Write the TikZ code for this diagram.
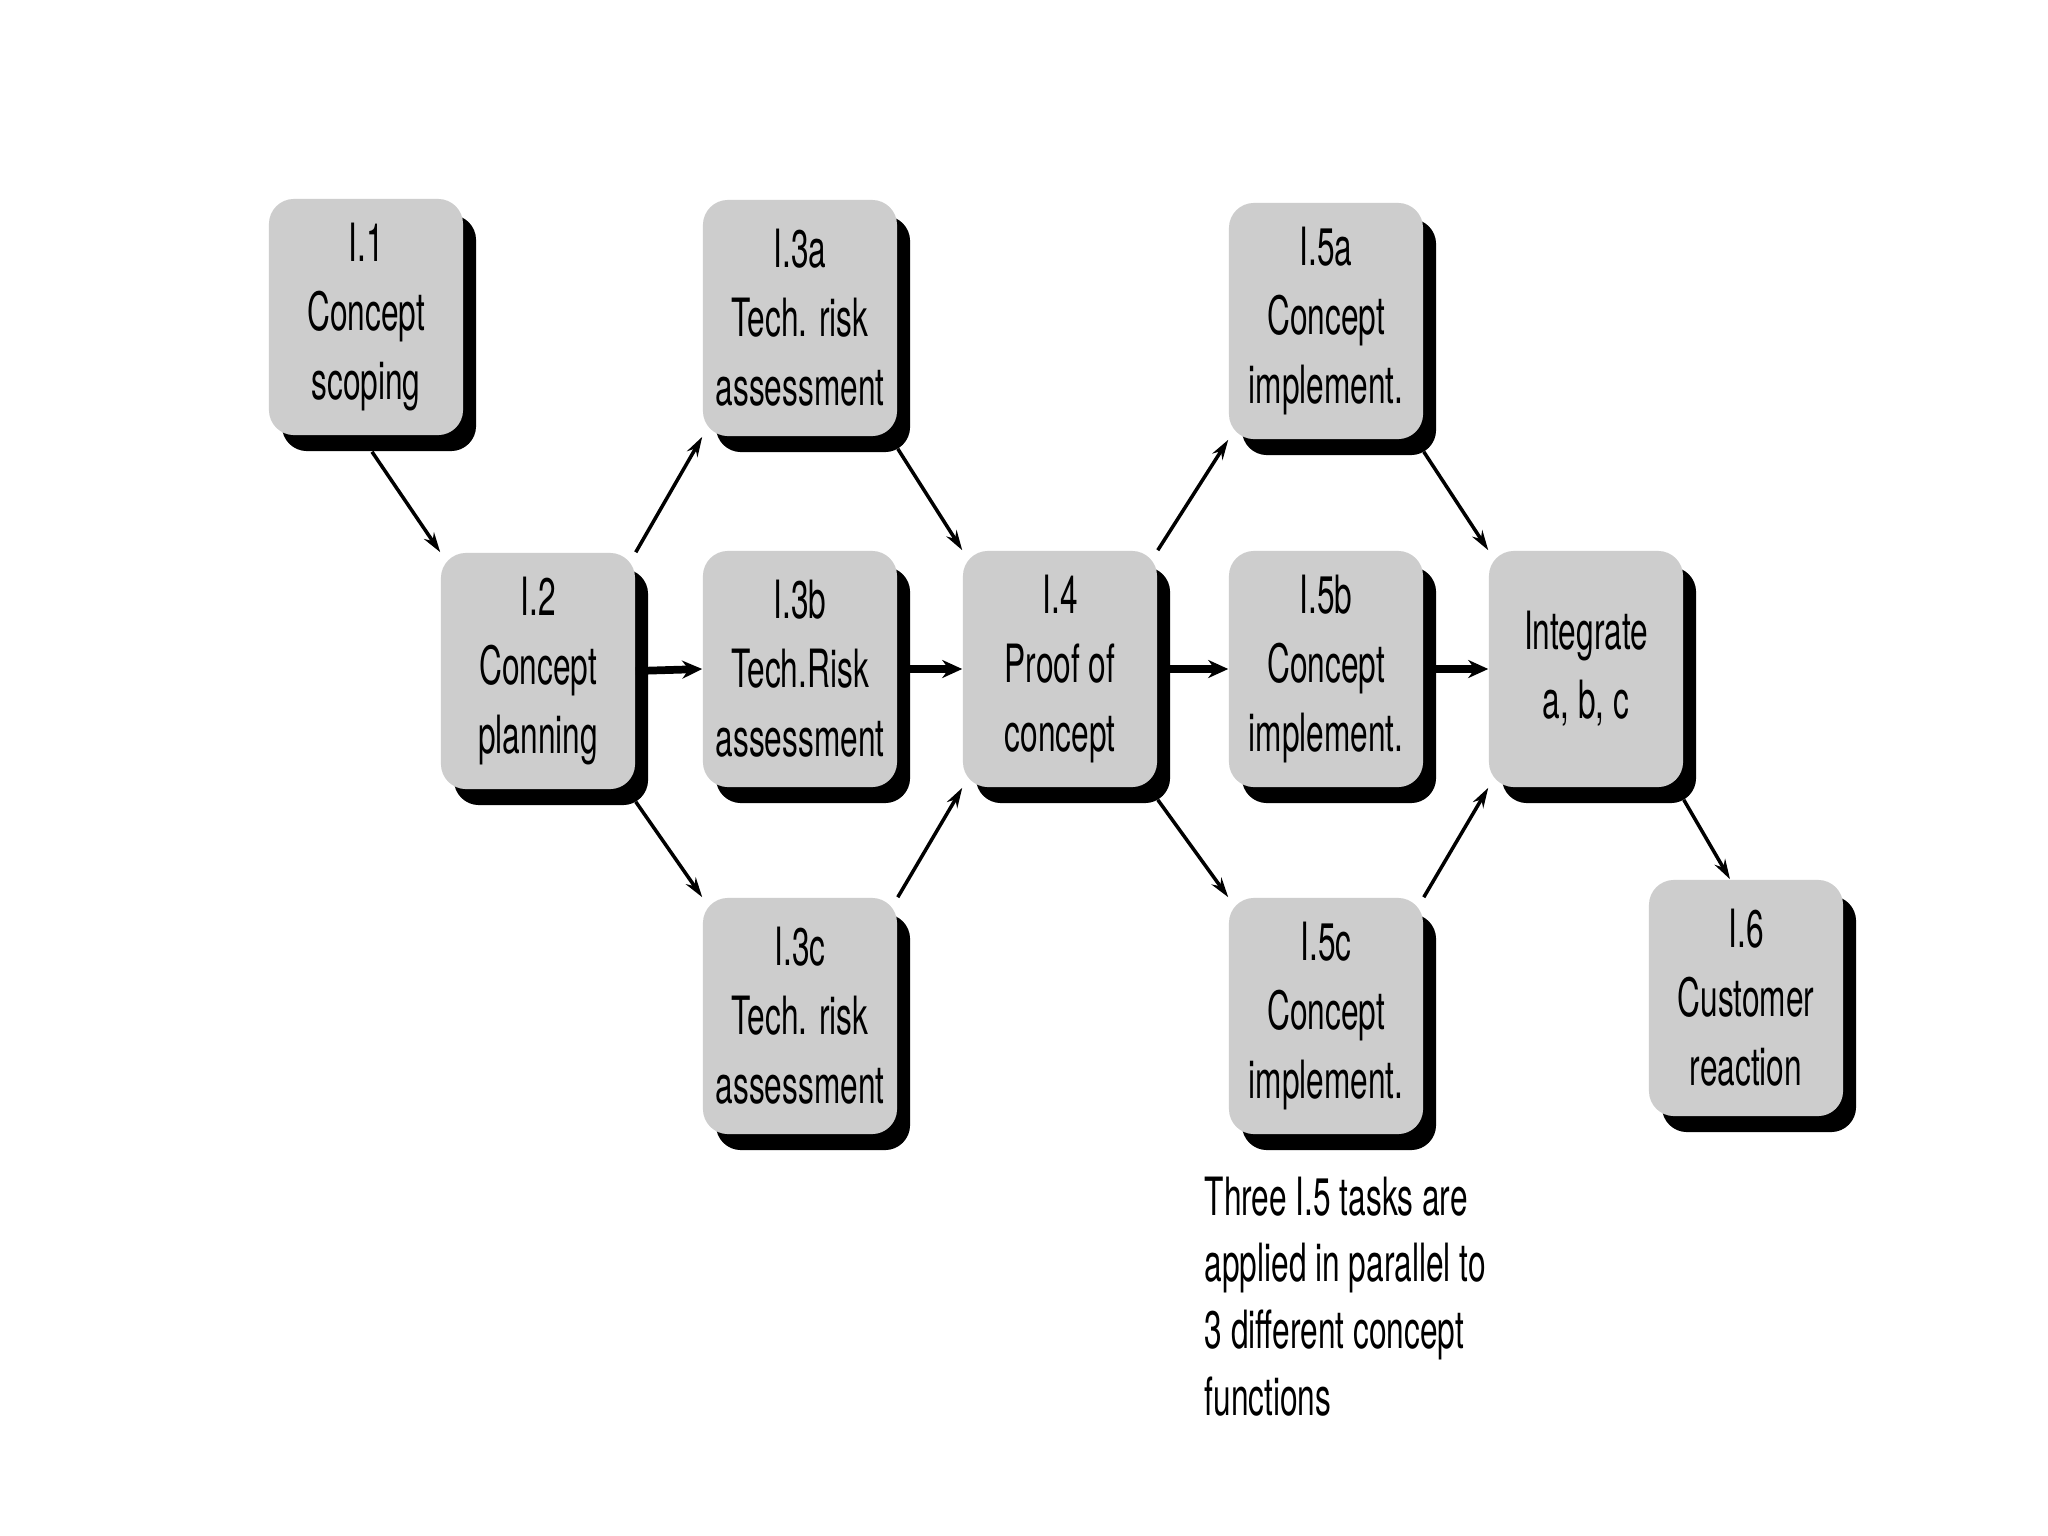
\documentclass[tikz,border=0pt]{standalone}
\usepackage{fontspec}
\setmainfont[FakeStretch=0.6]{TeX Gyre Heros}
\usepackage{xcolor}
\usepackage{tikz}
\usetikzlibrary{positioning, calc, arrows.meta, shadows, backgrounds}
\definecolor{taskgray}{RGB}{205, 205, 205}

\begin{document}
\begin{tikzpicture}[x=0.01cm, y=-0.01cm,
        task/.style={fill=taskgray, rounded corners=0.25cm, minimum width=1.94cm, minimum height=2.36cm,
            align=center, inner sep=2pt, font=\fontsize{15}{19.6}\selectfont,
            drop shadow={shadow xshift=0.13cm, shadow yshift=-0.16cm, fill=black, opacity=1}},
        flow/.style={-{Stealth[length=0.2cm, width=0.12cm]}, line width=1pt},
        mainflow/.style={-{Stealth[length=0.2cm, width=0.18cm]}, line width=2.2pt}]
        \fill[white] (0,0) rectangle (2048,1536);
        \node[task] (t11) at (366,317) {I.1\\Concept\\scoping};
        \node[task] (t12) at (538,671) {I.2\\Concept\\planning};
        \node[task] (t13a) at (800,318) {I.3a\\Tech. risk\\assessment};
        \node[task] (t13b) at (800,669) {I.3b\\Tech.Risk\\assessment};
        \node[task] (t13c) at (800,1016) {I.3c\\Tech. risk\\assessment};
        \node[task] (t14) at (1060,669) {I.4\\Proof of\\concept};
        \node[task] (t15a) at (1326,321) {I.5a\\Concept\\implement.};
        \node[task] (t15b) at (1326,669) {I.5b\\Concept\\implement.};
        \node[task] (t15c) at (1326,1016) {I.5c\\Concept\\implement.};
        \node[task] (tint) at (1586,669) {Integrate\\a, b, c};
        \node[task] (t16) at (1746,998) {I.6\\Customer\\reaction};
        \node[anchor=north west, align=left, inner sep=0pt, font=\fontsize{15}{19}\selectfont] (note) at (1204,1176)
            {Three I.5 tasks are\\applied in parallel to\\3 different concept\\functions};
        \draw[flow] ([xshift=0.06cm, yshift=-0.16cm]t11.south) -- (t12.north west);
        \draw[flow] (t12.north east) -- (t13a.south west);
        \draw[mainflow] (t12.east) -- (t13b.west);
        \draw[flow] ([yshift=-0.12cm]t12.south east) -- (t13c.north west);
        \draw[flow] ([yshift=-0.12cm]t13a.south east) -- (t14.north west);
        \draw[mainflow] (t13b.east) -- (t14.west);
        \draw[flow] (t13c.north east) -- (t14.south west);
        \draw[flow] (t14.north east) -- (t15a.south west);
        \draw[mainflow] (t14.east) -- (t15b.west);
        \draw[flow] ([yshift=-0.12cm]t14.south east) -- (t15c.north west);
        \draw[flow] ([yshift=-0.12cm]t15a.south east) -- (tint.north west);
        \draw[mainflow] (t15b.east) -- (tint.west);
        \draw[flow] (t15c.north east) -- (tint.south west);
        \draw[flow] ([yshift=-0.12cm]tint.south east) -- ([xshift=-0.16cm]t16.north);
    \end{tikzpicture}
\end{document}
